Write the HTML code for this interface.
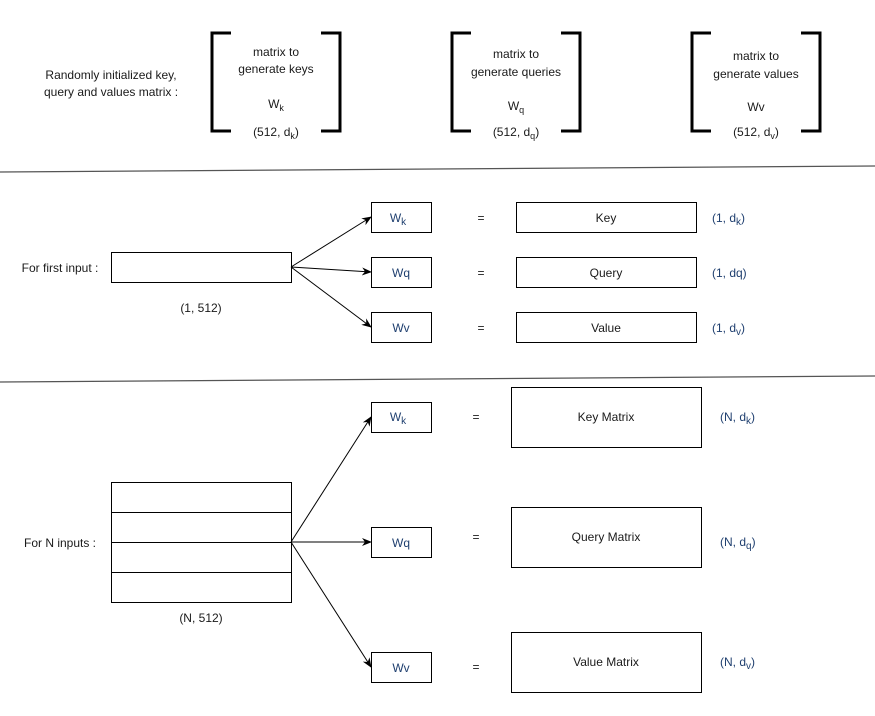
<!DOCTYPE html>
<html><head><meta charset="utf-8"><style>
html,body{margin:0;padding:0;background:#fff;}
svg{display:block;}
text{font-family:"Liberation Sans",Arial,sans-serif;font-size:12px;fill:#1a1a1a;}
.b{fill:#1f3f6f;}
</style></head><body>
<svg width="875" height="716" viewBox="0 0 875 716" xmlns="http://www.w3.org/2000/svg">
<defs><marker id="a" markerWidth="10" markerHeight="8" refX="9" refY="4" orient="auto" markerUnits="userSpaceOnUse"><path d="M0,0 L10,4 L0,8 L3,4 z" fill="#000"/></marker></defs>
<!-- top section -->
<text x="111" y="79" text-anchor="middle">Randomly initialized key,</text>
<text x="111" y="96" text-anchor="middle">query and values matrix :</text>
<g fill="none" stroke="#000" stroke-width="3">
<path d="M231,33 H212 V131 H231"/><path d="M321,33 H340 V131 H321"/>
<path d="M471,33 H452 V131 H471"/><path d="M561,33 H580 V131 H561"/>
<path d="M711,33 H692 V131 H711"/><path d="M801,33 H820 V131 H801"/>
</g>
<text x="276" y="56" text-anchor="middle">matrix to</text>
<text x="276" y="73" text-anchor="middle">generate keys</text>
<text x="276" y="108" text-anchor="middle">W<tspan font-size="9" dy="3">k</tspan></text>
<text x="276" y="136" text-anchor="middle">(512, d<tspan font-size="9" dy="3">k</tspan><tspan dy="-3">)</tspan></text>
<text x="516" y="58" text-anchor="middle">matrix to</text>
<text x="516" y="76" text-anchor="middle">generate queries</text>
<text x="516" y="110" text-anchor="middle">W<tspan font-size="9" dy="3">q</tspan></text>
<text x="516" y="136" text-anchor="middle">(512, d<tspan font-size="9" dy="3">q</tspan><tspan dy="-3">)</tspan></text>
<text x="756" y="60" text-anchor="middle">matrix to</text>
<text x="756" y="78" text-anchor="middle">generate values</text>
<text x="756" y="111" text-anchor="middle">Wv</text>
<text x="756" y="136" text-anchor="middle">(512, d<tspan font-size="9" dy="3">v</tspan><tspan dy="-3">)</tspan></text>
<line x1="0" y1="172" x2="875" y2="166" stroke="#555" stroke-width="1.3"/>
<line x1="0" y1="382" x2="875" y2="376" stroke="#555" stroke-width="1.3"/>
<!-- section 2 -->
<text x="60" y="272" text-anchor="middle">For first input :</text>
<rect x="111.5" y="252.5" width="180" height="30" fill="#fff" stroke="#000"/>
<text x="201" y="312" text-anchor="middle">(1, 512)</text>
<g stroke="#000" fill="none">
<line x1="291" y1="267" x2="371" y2="217" marker-end="url(#a)"/>
<line x1="291" y1="267" x2="371" y2="272" marker-end="url(#a)"/>
<line x1="291" y1="267" x2="371" y2="327" marker-end="url(#a)"/>
<rect x="371.5" y="202.5" width="60" height="30"/>
<rect x="371.5" y="257.5" width="60" height="30"/>
<rect x="371.5" y="312.5" width="60" height="30"/>
<rect x="516.5" y="202.5" width="180" height="30"/>
<rect x="516.5" y="257.5" width="180" height="30"/>
<rect x="516.5" y="312.5" width="180" height="30"/>
</g>
<text class="b" x="398" y="222" text-anchor="middle">W<tspan font-size="10" dy="3">k</tspan></text>
<text class="b" x="401" y="277" text-anchor="middle">Wq</text>
<text class="b" x="401" y="332" text-anchor="middle">Wv</text>
<text x="481" y="222" text-anchor="middle">=</text>
<text x="481" y="277" text-anchor="middle">=</text>
<text x="481" y="332" text-anchor="middle">=</text>
<text x="606" y="222" text-anchor="middle">Key</text>
<text x="606" y="277" text-anchor="middle">Query</text>
<text x="606" y="332" text-anchor="middle">Value</text>
<text class="b" x="712" y="222">(1, d<tspan font-size="10" dy="3">k</tspan><tspan dy="-3">)</tspan></text>
<text class="b" x="712" y="277">(1, dq)</text>
<text class="b" x="712" y="332">(1, d<tspan font-size="10" dy="3">v</tspan><tspan dy="-3">)</tspan></text>
<!-- section 3 -->
<text x="60" y="547" text-anchor="middle">For N inputs :</text>
<g stroke="#000" fill="none">
<rect x="111.5" y="482.5" width="180" height="120"/>
<line x1="111" y1="512.5" x2="291" y2="512.5"/>
<line x1="111" y1="542.5" x2="291" y2="542.5"/>
<line x1="111" y1="572.5" x2="291" y2="572.5"/>
<line x1="291" y1="542" x2="371" y2="417" marker-end="url(#a)"/>
<line x1="291" y1="542" x2="371" y2="542" marker-end="url(#a)"/>
<line x1="291" y1="542" x2="371" y2="667" marker-end="url(#a)"/>
<rect x="371.5" y="402.5" width="60" height="30"/>
<rect x="371.5" y="527.5" width="60" height="30"/>
<rect x="371.5" y="652.5" width="60" height="30"/>
<rect x="511.5" y="387.5" width="190" height="60"/>
<rect x="511.5" y="507.5" width="190" height="60"/>
<rect x="511.5" y="632.5" width="190" height="60"/>
</g>
<text x="201" y="622" text-anchor="middle">(N, 512)</text>
<text class="b" x="398" y="421" text-anchor="middle">W<tspan font-size="10" dy="3">k</tspan></text>
<text class="b" x="401" y="547" text-anchor="middle">Wq</text>
<text class="b" x="401" y="672" text-anchor="middle">Wv</text>
<text x="476" y="421" text-anchor="middle">=</text>
<text x="476" y="541" text-anchor="middle">=</text>
<text x="476" y="671" text-anchor="middle">=</text>
<text x="606" y="421" text-anchor="middle">Key Matrix</text>
<text x="606" y="541" text-anchor="middle">Query Matrix</text>
<text x="606" y="666" text-anchor="middle">Value Matrix</text>
<text class="b" x="720" y="421">(N, d<tspan font-size="10" dy="3">k</tspan><tspan dy="-3">)</tspan></text>
<text class="b" x="720" y="546">(N, d<tspan font-size="10" dy="3">q</tspan><tspan dy="-3">)</tspan></text>
<text class="b" x="720" y="666">(N, d<tspan font-size="10" dy="3">v</tspan><tspan dy="-3">)</tspan></text>
</svg>
</body></html>
